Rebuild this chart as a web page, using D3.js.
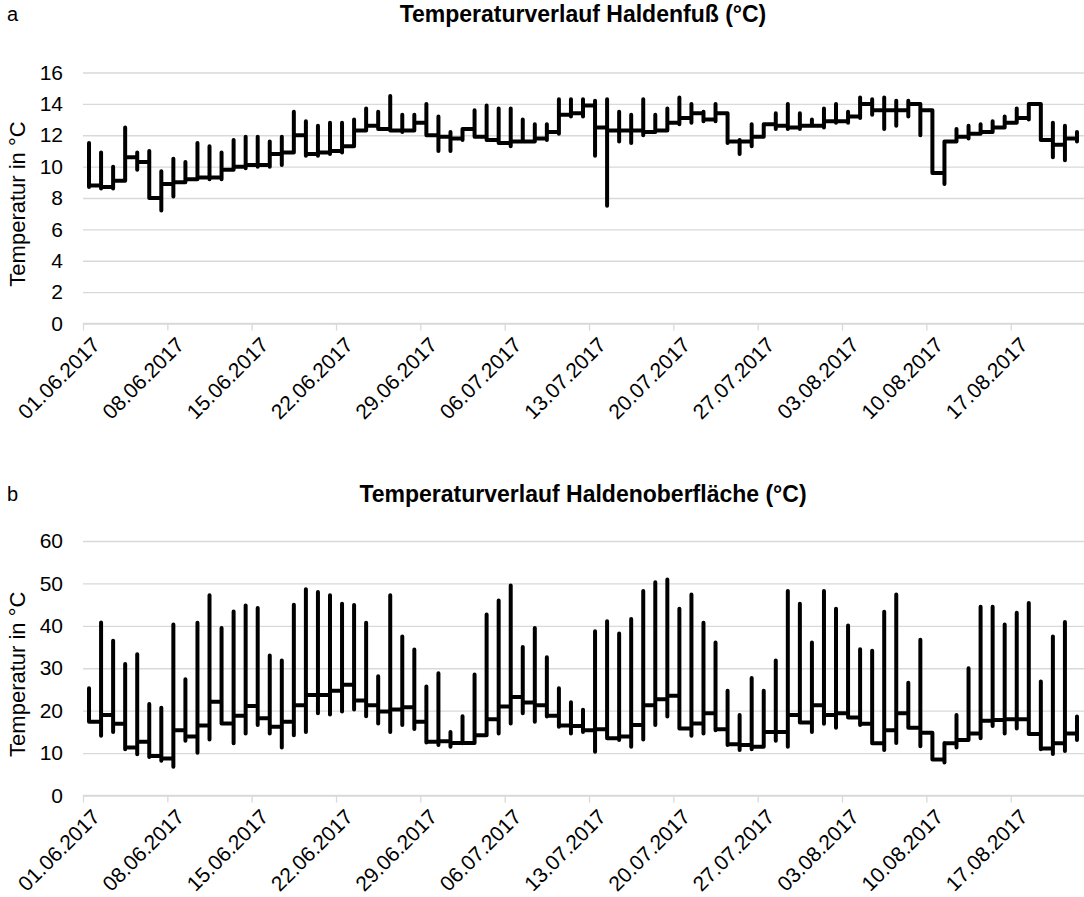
<!DOCTYPE html>
<html>
<head>
<meta charset="utf-8">
<script src="https://cdn.jsdelivr.net/npm/d3@7"></script>
<style>
  body { margin: 0; background: #fff; }
  text { font-family: "Liberation Sans", Arial, sans-serif; }
</style>
</head>
<body>
<div id="chart"></div>
<script>
// daily values, 01.06.2017 - 22.08.2017 (one entry per day)
var tickLabels = ["01.06.2017", "08.06.2017", "15.06.2017", "22.06.2017", "29.06.2017", "06.07.2017",
  "13.07.2017", "20.07.2017", "27.07.2017", "03.08.2017", "10.08.2017", "17.08.2017"];

// a) Haldenfuß
var footHigh = [11.5, 10.9, 10.0, 12.5, 10.9, 11.0, 9.7, 10.5, 10.3, 11.5, 11.3, 10.9, 11.7, 11.9, 11.9, 11.6, 11.9,
  13.5, 12.9, 12.6, 12.8, 12.8, 13.0, 13.7, 13.5, 14.5, 13.3, 13.3, 14.0, 13.2, 12.2, 12.4, 13.6, 13.9, 13.7, 13.7,
  13.0, 12.7, 12.7, 14.3, 14.3, 14.3, 14.2, 14.3, 13.5, 13.3, 14.3, 13.3, 13.7, 14.4, 14.0, 13.5, 14.0, 13.4, 11.7,
  12.7, 12.7, 13.4, 14.0, 13.4, 13.0, 13.7, 14.0, 13.5, 14.4, 14.3, 14.4, 14.2, 14.2, 14.0, 13.6, 11.6, 12.4, 12.6,
  12.7, 12.9, 13.2, 13.7, 14.0, 14.0, 12.8, 12.6, 12.2];
var footLow = [8.7, 8.6, 8.6, 9.1, 9.8, 8.0, 7.2, 8.1, 9.0, 9.2, 9.2, 9.2, 9.8, 9.9, 10.0, 10.0, 10.1,
  10.9, 10.7, 10.7, 10.8, 10.9, 11.3, 12.3, 12.5, 12.4, 12.2, 12.3, 12.0, 11.0, 11.0, 11.7, 11.9, 11.8, 11.5, 11.3,
  11.6, 11.6, 11.7, 12.1, 13.2, 13.2, 10.7, 7.5, 11.6, 11.5, 12.0, 12.2, 12.3, 12.7, 12.8, 12.9, 12.9, 11.5, 10.8,
  11.3, 11.9, 12.4, 12.4, 12.4, 12.6, 12.5, 12.8, 12.8, 13.1, 13.3, 12.4, 12.6, 13.2, 12.0, 9.6, 8.9, 11.6, 11.8,
  12.2, 12.2, 12.5, 12.9, 13.0, 11.7, 10.6, 10.4, 11.6];
var footLevel = [8.8, 8.7, 9.1, 10.6, 10.3, 8.0, 8.9, 9.0, 9.2, 9.3, 9.3, 9.8, 10.0, 10.1, 10.1, 10.8, 10.9,
  12.0, 10.8, 10.9, 11.0, 11.3, 12.3, 12.6, 12.4, 12.3, 12.3, 12.8, 12.0, 11.9, 11.8, 12.4, 11.9, 11.7, 11.5, 11.6,
  11.6, 11.8, 12.2, 13.3, 13.4, 13.9, 12.5, 12.3, 12.3, 12.3, 12.2, 12.3, 12.8, 13.1, 13.4, 13.0, 13.4, 11.6, 11.6,
  11.9, 12.7, 12.6, 12.5, 12.6, 12.6, 12.9, 12.9, 13.2, 14.0, 13.6, 13.6, 13.6, 14.0, 13.6, 9.6, 11.6, 11.9, 12.1,
  12.2, 12.5, 12.8, 13.1, 14.0, 11.7, 11.4, 11.8, 11.8];

// b) Haldenoberfläche
var surfHigh = [25.3, 40.8, 36.5, 31.0, 33.3, 21.6, 20.7, 40.3, 27.4, 40.7, 47.2, 39.5, 43.4, 44.8, 44.2, 33.0, 31.8,
  45.0, 48.6, 48.0, 47.2, 45.2, 44.9, 40.7, 28.1, 47.2, 37.5, 34.4, 25.7, 28.8, 15.0, 18.7, 28.5, 42.7, 46.0, 49.5,
  35.0, 39.5, 32.6, 25.3, 22.0, 20.2, 38.7, 41.1, 38.2, 41.6, 48.2, 50.3, 50.9, 44.0, 47.4, 40.7, 36.1, 24.7, 19.0,
  27.7, 24.7, 31.8, 48.2, 45.2, 36.1, 48.2, 44.0, 40.1, 34.5, 34.1, 43.3, 47.4, 26.6, 36.7, 14.8, 12.4, 19.0, 30.0,
  44.5, 44.5, 40.3, 43.1, 45.4, 26.9, 37.5, 40.9, 18.6];
var surfLow = [17.4, 14.1, 15.0, 10.9, 9.7, 9.1, 8.2, 6.8, 12.9, 10.1, 13.2, 17.0, 12.3, 14.6, 16.6, 14.6, 11.3,
  14.2, 15.0, 19.4, 19.1, 19.8, 20.3, 18.7, 17.0, 15.0, 16.6, 15.7, 12.5, 11.9, 11.5, 12.3, 12.4, 14.2, 14.6, 17.0,
  19.4, 17.4, 18.6, 16.2, 14.6, 15.0, 10.3, 13.5, 13.1, 11.5, 13.2, 16.6, 18.6, 15.8, 14.1, 14.6, 15.4, 11.9, 10.7,
  10.9, 11.5, 12.9, 11.5, 17.2, 15.0, 16.9, 16.0, 18.6, 16.6, 12.3, 10.7, 12.4, 16.0, 11.6, 8.5, 7.8, 11.3, 13.1,
  13.5, 16.4, 14.6, 15.8, 14.6, 10.9, 9.8, 10.5, 13.1];
var surfLevel = [17.4, 19.0, 16.9, 11.3, 12.7, 9.3, 8.7, 15.4, 13.9, 16.5, 22.1, 17.0, 18.8, 21.1, 18.2, 16.2, 17.4,
  21.3, 23.7, 23.7, 24.7, 26.1, 22.4, 21.3, 19.8, 20.3, 20.8, 17.4, 12.7, 12.8, 12.4, 12.4, 14.2, 18.0, 21.0, 23.2,
  21.9, 21.3, 18.8, 16.5, 16.4, 15.4, 15.6, 13.5, 13.9, 16.6, 21.3, 22.7, 23.5, 15.8, 17.0, 19.4, 15.6, 12.1, 11.9,
  11.5, 15.0, 15.0, 19.0, 17.2, 21.3, 19.0, 19.4, 18.4, 16.9, 12.3, 15.4, 19.4, 16.0, 14.8, 8.5, 12.3, 13.1, 14.6,
  17.6, 17.8, 18.0, 18.0, 14.5, 11.1, 12.3, 14.6, 14.6];

var panels = [
  { letter: "a", title: "Temperaturverlauf Haldenfuß (°C)", high: footHigh, low: footLow, level: footLevel,
    yTicks: [0, 2, 4, 6, 8, 10, 12, 14, 16], top: 72.5, bottom: 323.5, titleY: 22 },
  { letter: "b", title: "Temperaturverlauf Haldenoberfläche (°C)", high: surfHigh, low: surfLow, level: surfLevel,
    yTicks: [0, 10, 20, 30, 40, 50, 60], top: 541, bottom: 795.5, titleY: 502 }
];

var width = 1084, height = 897;
var plotLeft = 83, plotRight = 1083;

var svg = d3.select("#chart").append("svg")
  .attr("width", width)
  .attr("height", height);

var start = new Date(2017, 5, 1);
var end = new Date(2017, 7, 23);
var days = d3.timeDay.range(start, end);
var tickDates = tickLabels.map(function(s) {
  var p = s.split(".");
  return new Date(+p[2], +p[1] - 1, +p[0]);
});

var x = d3.scaleTime().domain([start, end]).range([plotLeft, plotRight]);

panels.forEach(function(p) {
  var y = d3.scaleLinear()
    .domain([0, d3.max(p.yTicks)])
    .range([p.bottom, p.top]);

  var g = svg.append("g");

  // gridlines + y labels
  var yAxis = g.append("g")
    .attr("transform", `translate(${plotLeft},0)`)
    .call(d3.axisLeft(y).tickValues(p.yTicks).tickSize(-(width - plotLeft)).tickPadding(20));
  yAxis.select(".domain").remove();
  yAxis.selectAll(".tick line").attr("stroke", "#d9d9d9").attr("stroke-width", 1.3);
  yAxis.selectAll(".tick text")
    .attr("fill", "#000")
    .style("font-size", "21px");

  // x axis
  var xAxis = g.append("g")
    .attr("transform", `translate(0,${p.bottom})`)
    .call(d3.axisBottom(x).tickValues(tickDates).tickSize(7)
      .tickFormat(function(d, i) { return tickLabels[i]; }));
  xAxis.select(".domain").attr("stroke", "#d9d9d9").attr("stroke-width", 1.3)
    .attr("d", `M${plotLeft},0H${width}`);
  xAxis.selectAll(".tick line").attr("stroke", "#d9d9d9").attr("stroke-width", 1.3);
  xAxis.selectAll(".tick text")
    .attr("fill", "#000")
    .style("font-size", "21px")
    .attr("text-anchor", "end")
    .attr("transform", "translate(4,9) rotate(-45)")
    .attr("dy", "0.35em")
    .attr("y", 12)
    .attr("x", 0);

  // daily min/max range joined by the day-to-day line
  var pts = [];
  days.forEach(function(d, i) {
    var cx = x(d3.timeHour.offset(d, 12));
    if (i > 0) pts.push([cx, p.level[i - 1]]);
    pts.push([cx, p.high[i]]);
    pts.push([cx, p.low[i]]);
    pts.push([cx, p.level[i]]);
  });
  var line = d3.line()
    .x(function(d) { return d[0]; })
    .y(function(d) { return y(d[1]); });

  g.append("path")
    .datum(pts)
    .attr("d", line)
    .attr("fill", "none")
    .attr("stroke", "#000")
    .attr("stroke-width", 4)
    .attr("stroke-linejoin", "round")
    .attr("stroke-linecap", "round");

  // titles
  g.append("text")
    .attr("x", 583)
    .attr("y", p.titleY)
    .attr("text-anchor", "middle")
    .style("font-size", "23px")
    .style("font-weight", "bold")
    .text(p.title);

  g.append("text")
    .attr("x", 7)
    .attr("y", p.titleY - 1)
    .style("font-size", "20px")
    .text(p.letter);

  g.append("text")
    .attr("transform", `translate(25,${(p.top + p.bottom) / 2 + 6}) rotate(-90)`)
    .attr("text-anchor", "middle")
    .style("font-size", "22px")
    .text("Temperatur in °C");
});
</script>
</body>
</html>
